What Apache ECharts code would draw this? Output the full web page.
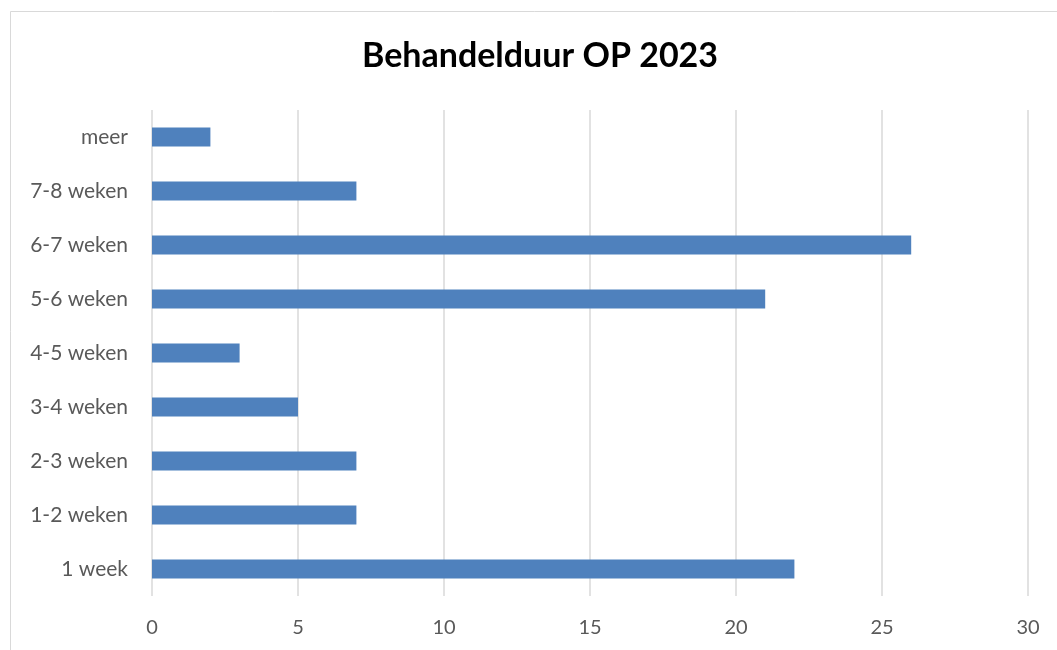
<!DOCTYPE html>
<html>
<head>
<meta charset="utf-8">
<script src="https://cdn.jsdelivr.net/npm/echarts@6/dist/echarts.min.js"></script>
<style>html,body{margin:0;padding:0;background:#fff;}#c{width:1057px;height:650px;}</style>
</head>
<body>
<div id="c"></div>
<script>
const categories = ['1 week', '1-2 weken', '2-3 weken', '3-4 weken', '4-5 weken', '5-6 weken', '6-7 weken', '7-8 weken', 'meer'];
const values = [22, 7, 7, 5, 3, 21, 26, 7, 2];
const xTicks = [0, 5, 10, 15, 20, 25, 30];
const titleText = 'Behandelduur OP 2023';

const chart = echarts.init(document.getElementById('c'));
chart.setOption({
  animation: false,
  backgroundColor: '#fff',
  title: {
    text: titleText,
    left: 357,
    top: 34,
    textStyle: { fontFamily: 'Lato', fontWeight: 'bold', fontSize: 34, color: '#000' }
  },
  graphic: [{
    type: 'rect',
    shape: { x: 10.5, y: 11.5, width: 1100, height: 700 },
    style: { fill: 'none', stroke: '#d9d9d9', lineWidth: 1 },
    silent: true
  }],
  grid: { left: 152, right: 29, top: 110, bottom: 54, containLabel: false },
  xAxis: {
    type: 'value',
    min: xTicks[0],
    max: xTicks[xTicks.length - 1],
    interval: 5,
    axisLine: { show: false },
    axisTick: { show: false },
    splitLine: { show: true, lineStyle: { color: '#d9d9d9', width: 1.5 } },
    axisLabel: { margin: 22, fontFamily: 'Lato', fontSize: 20, color: '#595959' }
  },
  yAxis: {
    type: 'category',
    data: categories,
    axisLine: { show: false },
    axisTick: { show: false },
    axisLabel: { margin: 24, fontFamily: 'Lato', fontSize: 21, color: '#595959' }
  },
  series: [{
    type: 'bar',
    data: values,
    barWidth: 19,
    itemStyle: { color: '#4F81BD' }
  }]
});
</script>
</body>
</html>
